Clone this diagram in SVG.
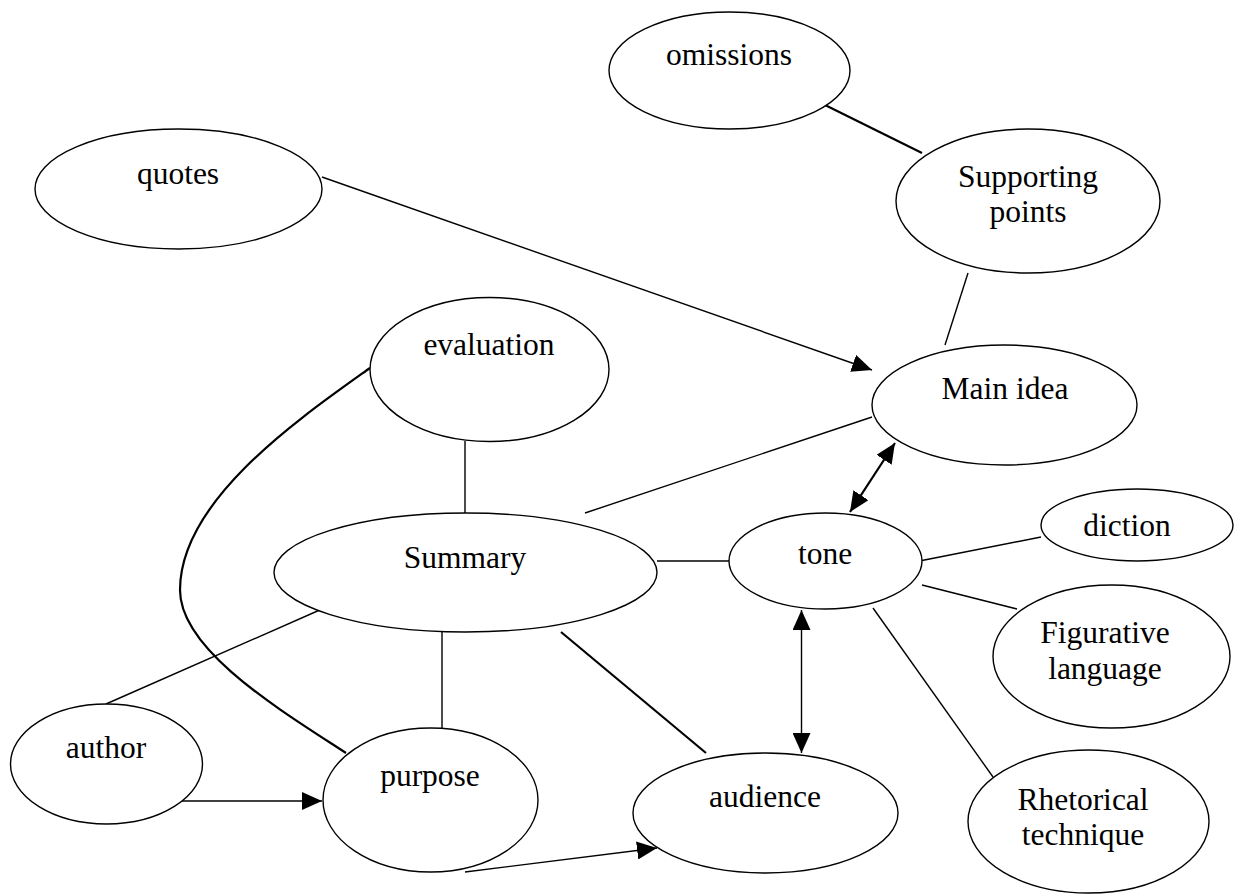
<svg xmlns="http://www.w3.org/2000/svg" width="1235" height="894" viewBox="0 0 1235 894">
<style>
  .n ellipse { fill: #fff; stroke: #000; stroke-width: 1.4; }
  text { font-family: "Liberation Serif", "Times New Roman", serif; font-size: 31.5px; fill: #000; text-anchor: middle; }
  .c line, .c path { stroke: #000; stroke-width: 1.4; fill: none; }
  .c .thick { stroke-width: 2.2; }
</style>
<defs>
  <marker id="ah" viewBox="0 0 20 18" refX="20" refY="9" markerWidth="20" markerHeight="18" markerUnits="userSpaceOnUse" orient="auto-start-reverse">
    <path d="M0,0 L20,9 L0,18 z" fill="#000"/>
  </marker>
</defs>
<rect width="1235" height="894" fill="#fff"/>
<g id="connectors" class="c">
  <line class="thick" x1="825" y1="105" x2="922" y2="153"/>
  <line x1="968" y1="273" x2="945" y2="345"/>
  <line x1="322" y1="177" x2="872" y2="370" marker-end="url(#ah)"/>
  <line x1="872" y1="417" x2="585" y2="513"/>
  <line class="thick" x1="895" y1="443" x2="850" y2="512" marker-start="url(#ah)" marker-end="url(#ah)"/>
  <line x1="465" y1="441" x2="465" y2="513"/>
  <path class="thick" d="M370,368 C300,418 180,500 180,590 C180,650 280,710 346,753"/>
  <line x1="657" y1="561" x2="730" y2="561"/>
  <line x1="322" y1="609" x2="106" y2="704"/>
  <line x1="442" y1="632" x2="442" y2="728"/>
  <line class="thick" x1="561" y1="632" x2="706" y2="753"/>
  <line x1="178" y1="801" x2="322" y2="801" marker-end="url(#ah)"/>
  <line x1="465" y1="872" x2="657" y2="848" marker-end="url(#ah)"/>
  <line x1="801.5" y1="610" x2="801.5" y2="753" marker-start="url(#ah)" marker-end="url(#ah)"/>
  <line x1="922" y1="560.5" x2="1041" y2="537"/>
  <line x1="922" y1="585" x2="1017" y2="609"/>
  <line x1="873" y1="608" x2="993" y2="777"/>
</g>
<g id="omissions" class="n"><ellipse cx="729.5" cy="70.5" rx="120.5" ry="58.5"/><text x="729" y="65">omissions</text></g>
<g id="quotes" class="n"><ellipse cx="178.5" cy="189" rx="143.5" ry="60"/><text x="178" y="184">quotes</text></g>
<g id="supporting" class="n"><ellipse cx="1028" cy="201" rx="132" ry="72"/><text x="1028" y="187">Supporting</text><text x="1028" y="222">points</text></g>
<g id="evaluation" class="n"><ellipse cx="489.5" cy="369.5" rx="119.5" ry="72"/><text x="489" y="355">evaluation</text></g>
<g id="mainidea" class="n"><ellipse cx="1004.5" cy="405" rx="132.5" ry="60"/><text x="1005" y="399">Main idea</text></g>
<g id="diction" class="n"><ellipse cx="1137" cy="525" rx="96" ry="36"/><text x="1127" y="536">diction</text></g>
<g id="summary" class="n"><ellipse cx="465.5" cy="572.5" rx="191.5" ry="59.5"/><text x="465" y="568">Summary</text></g>
<g id="tone" class="n"><ellipse cx="825.5" cy="561" rx="96.5" ry="48"/><text x="825" y="564">tone</text></g>
<g id="figurative" class="n"><ellipse cx="1111.5" cy="656.5" rx="118.5" ry="71.5"/><text x="1105" y="643">Figurative</text><text x="1105" y="679">language</text></g>
<g id="author" class="n"><ellipse cx="106.5" cy="764" rx="96" ry="60"/><text x="106" y="758">author</text></g>
<g id="purpose" class="n"><ellipse cx="430.5" cy="800" rx="107.5" ry="72"/><text x="430" y="786">purpose</text></g>
<g id="audience" class="n"><ellipse cx="765.5" cy="813" rx="132.5" ry="60"/><text x="765" y="807">audience</text></g>
<g id="rhetorical" class="n"><ellipse cx="1088.5" cy="821.5" rx="120.5" ry="71.5"/><text x="1083" y="810">Rhetorical</text><text x="1083" y="845">technique</text></g>
</svg>
